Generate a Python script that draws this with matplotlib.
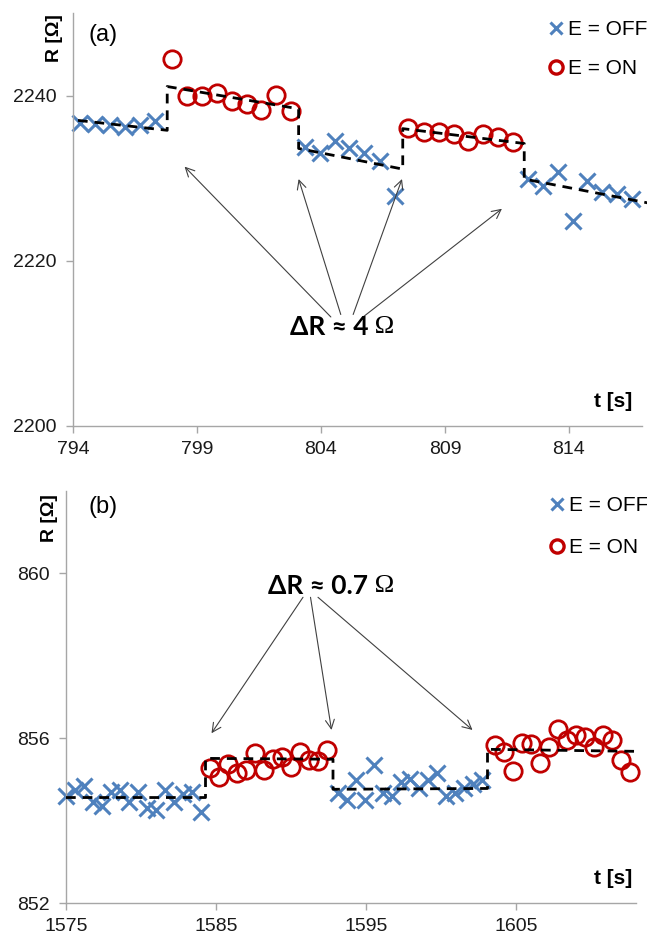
import matplotlib
matplotlib.use('Agg')
import matplotlib.pyplot as plt
from matplotlib.lines import Line2D

# ---- panel (a) data ----
t_off_a = [794.3, 794.9, 795.5, 796.1, 796.7, 797.3,
           803.35, 803.95, 804.55, 805.15, 805.75, 806.4, 807.0,
           812.35, 812.95, 813.55, 814.15, 814.75, 815.35, 815.95, 816.55]
r_off_a = [2236.7, 2236.6, 2236.4, 2236.2, 2236.5, 2236.9,
           2233.8, 2233.0, 2234.5, 2233.6, 2233.0, 2232.1, 2227.9,
           2229.9, 2229.0, 2230.8, 2224.8, 2229.7, 2228.3, 2228.1, 2227.5]
t_on_a = [798.0, 798.6, 799.2, 799.8, 800.4, 801.0, 801.6, 802.2, 802.8,
          807.5, 808.15, 808.75, 809.35, 809.95, 810.55, 811.15, 811.75]
r_on_a = [2244.4, 2240.0, 2240.0, 2240.3, 2239.3, 2239.0, 2238.3, 2240.1, 2238.1,
          2236.1, 2235.6, 2235.6, 2235.4, 2234.5, 2235.4, 2235.0, 2234.4]
fit_t_a = [794.2, 797.8, 797.8, 803.1, 803.1, 807.3, 807.3, 812.2, 812.2, 817.2]
fit_r_a = [2237.0, 2235.8, 2241.1, 2238.4, 2233.6, 2231.1, 2236.0, 2234.2, 2229.9, 2227.0]
arrow_heads_a = [(798.5, 2231.4), (803.1, 2229.9), (807.27, 2229.9), (811.3, 2226.3)]
arrow_tails_a = [(804.4, 2213.2), (804.8, 2213.5), (805.3, 2213.5), (805.7, 2213.2)]
xticks_a = [794, 799, 804, 809, 814]
yticks_a = [2200, 2220, 2240]

# ---- panel (b) data ----
t_off_b = [1575.0, 1575.6, 1576.2, 1576.8, 1577.4, 1578.0, 1578.6, 1579.2,
           1579.8, 1580.4, 1581.0, 1581.6, 1582.2, 1582.8, 1583.4, 1584.0,
           1593.1, 1593.7, 1594.3, 1594.9, 1595.5, 1596.1, 1596.7, 1597.3, 1597.9,
           1598.5, 1599.1, 1599.7, 1600.3, 1600.9, 1601.5, 1602.1, 1602.7]
r_off_b = [854.6, 854.75, 854.85, 854.45, 854.35, 854.7, 854.75, 854.45,
           854.7, 854.3, 854.25, 854.75, 854.45, 854.65, 854.7, 854.2,
           854.66, 854.5, 854.98, 854.5, 855.34, 854.68, 854.6, 854.93, 855.02,
           854.78, 854.98, 855.15, 854.6, 854.68, 854.8, 854.9, 854.98]
t_on_b = [1584.6, 1585.2, 1585.8, 1586.4, 1587.0, 1587.6, 1588.2, 1588.8, 1589.4,
          1590.0, 1590.6, 1591.2, 1591.8, 1592.4,
          1603.6, 1604.2, 1604.8, 1605.4, 1606.0, 1606.6, 1607.2, 1607.8, 1608.4,
          1609.0, 1609.6, 1610.2, 1610.8, 1611.4, 1612.0, 1612.6]
r_on_b = [855.27, 855.05, 855.37, 855.15, 855.22, 855.63, 855.24, 855.49, 855.54,
          855.29, 855.66, 855.46, 855.44, 855.71,
          855.83, 855.66, 855.2, 855.88, 855.85, 855.39, 855.78, 856.22, 855.95,
          856.07, 856.02, 855.78, 856.07, 855.95, 855.46, 855.17]
fit_t_b = [1575.0, 1584.3, 1584.3, 1592.8, 1592.8, 1603.1, 1603.1, 1613.2]
fit_r_b = [854.56, 854.56, 855.51, 855.49, 854.76, 854.78, 855.73, 855.68]
arrow_heads_b = [(1584.7, 856.12), (1592.7, 856.2), (1602.1, 856.2)]
arrow_tails_b = [(1590.8, 859.42), (1591.3, 859.42), (1591.8, 859.42)]
xticks_b = [1575, 1585, 1595, 1605]
yticks_b = [852, 856, 860]

blue = '#4F81BD'
red = '#C00000'
gray = '#A6A6A6'
plt.rcParams['font.family'] = ['Liberation Sans', 'DejaVu Sans']

fig = plt.figure(figsize=(6.47, 9.35), dpi=100)
W, H = 647, 935


def axes_px(left, top, right, bottom):
    return fig.add_axes([left / W, 1 - bottom / H, (right - left) / W, (bottom - top) / H])


def style(ax, xticks, yticks):
    for s in ['top', 'right']:
        ax.spines[s].set_visible(False)
    for s in ['left', 'bottom']:
        ax.spines[s].set_color(gray)
        ax.spines[s].set_linewidth(1.0)
    ax.set_xticks(xticks)
    ax.set_yticks(yticks)
    ax.tick_params(direction='out', length=5, width=1, color=gray,
                   labelsize=14, labelcolor='#1a1a1a')
    ax.tick_params(axis='y', pad=7)
    ax.tick_params(axis='x', pad=6)


def draw(ax, t_off, r_off, t_on, r_on, fit_t, fit_r):
    ax.plot(fit_t, fit_r, color='black', lw=2, ls=(0, (3.5, 2.5)), zorder=3, clip_on=False)
    ax.plot(t_off, r_off, ls='none', marker='x', ms=12, mew=2.2, color=blue,
            zorder=2, clip_on=False)
    ax.plot(t_on, r_on, ls='none', marker='o', ms=12.5, mew=2, mfc='none', mec=red,
            zorder=2, clip_on=False)


def legend(ax, x, y, spacing):
    h1 = Line2D([], [], ls='none', marker='x', ms=9, mew=2.2, color=blue)
    h2 = Line2D([], [], ls='none', marker='o', ms=9.5, mew=2.4, mfc='none', mec=red)
    ax.legend([h1, h2], ['E = OFF', 'E = ON'], loc='upper left', bbox_to_anchor=(x, y),
              frameon=False, borderpad=0, borderaxespad=0, handlelength=0.75,
              handletextpad=0.2, labelspacing=spacing, fontsize=15)


def delta_text(ax, x, y, txt):
    ax.text(x, y, txt, ha='right', va='center', fontsize=19, fontweight='bold',
            family=['Lato', 'DejaVu Sans'])
    ax.text(x, y, ' \u03a9', ha='left', va='center', fontsize=19,
            family=['Liberation Serif', 'DejaVu Serif'])


# ---- (a) ----
ax1 = axes_px(73, 13, 642, 426)
draw(ax1, t_off_a, r_off_a, t_on_a, r_on_a, fit_t_a, fit_r_a)
ax1.set_xlim(794, 816.95)
ax1.set_ylim(2200, 2250)
style(ax1, xticks_a, yticks_a)
legend(ax1, 0.835, 0.983, 0.97)
for head, tail in zip(arrow_heads_a, arrow_tails_a):
    ax1.annotate('', xy=head, xytext=tail,
                 arrowprops=dict(arrowstyle='->', color='#404040', lw=0.8,
                                 shrinkA=0, shrinkB=0, mutation_scale=16))
delta_text(ax1, 805.9, 2212.0, '\u0394R \u2248 4')
ax1.text(0.027, 0.947, '(a)', transform=ax1.transAxes, fontsize=17, va='center', ha='left')
fig.text(54 / W, 1 - 38 / H, 'R [\u03a9]', rotation=90, fontsize=14, fontweight='bold',
         ha='center', va='center')
fig.text(632 / W, 1 - 401 / H, 't [s]', fontsize=15, fontweight='bold', ha='right', va='center')

# ---- (b) ----
ax2 = axes_px(66, 491, 636, 903)
draw(ax2, t_off_b, r_off_b, t_on_b, r_on_b, fit_t_b, fit_r_b)
ax2.set_xlim(1575, 1613)
ax2.set_ylim(852, 862)
style(ax2, xticks_b, yticks_b)
legend(ax2, 0.847, 0.988, 1.12)
for head, tail in zip(arrow_heads_b, arrow_tails_b):
    ax2.annotate('', xy=head, xytext=tail,
                 arrowprops=dict(arrowstyle='->', color='#404040', lw=0.8,
                                 shrinkA=0, shrinkB=0, mutation_scale=16))
delta_text(ax2, 1595.1, 859.7, '\u0394R \u2248 0.7')
ax2.text(0.039, 0.96, '(b)', transform=ax2.transAxes, fontsize=17, va='center', ha='left')
fig.text(50 / W, 1 - 518 / H, 'R [\u03a9]', rotation=90, fontsize=14, fontweight='bold',
         ha='center', va='center')
fig.text(632 / W, 1 - 879 / H, 't [s]', fontsize=15, fontweight='bold', ha='right', va='center')

fig.savefig('out.png', dpi=100)
